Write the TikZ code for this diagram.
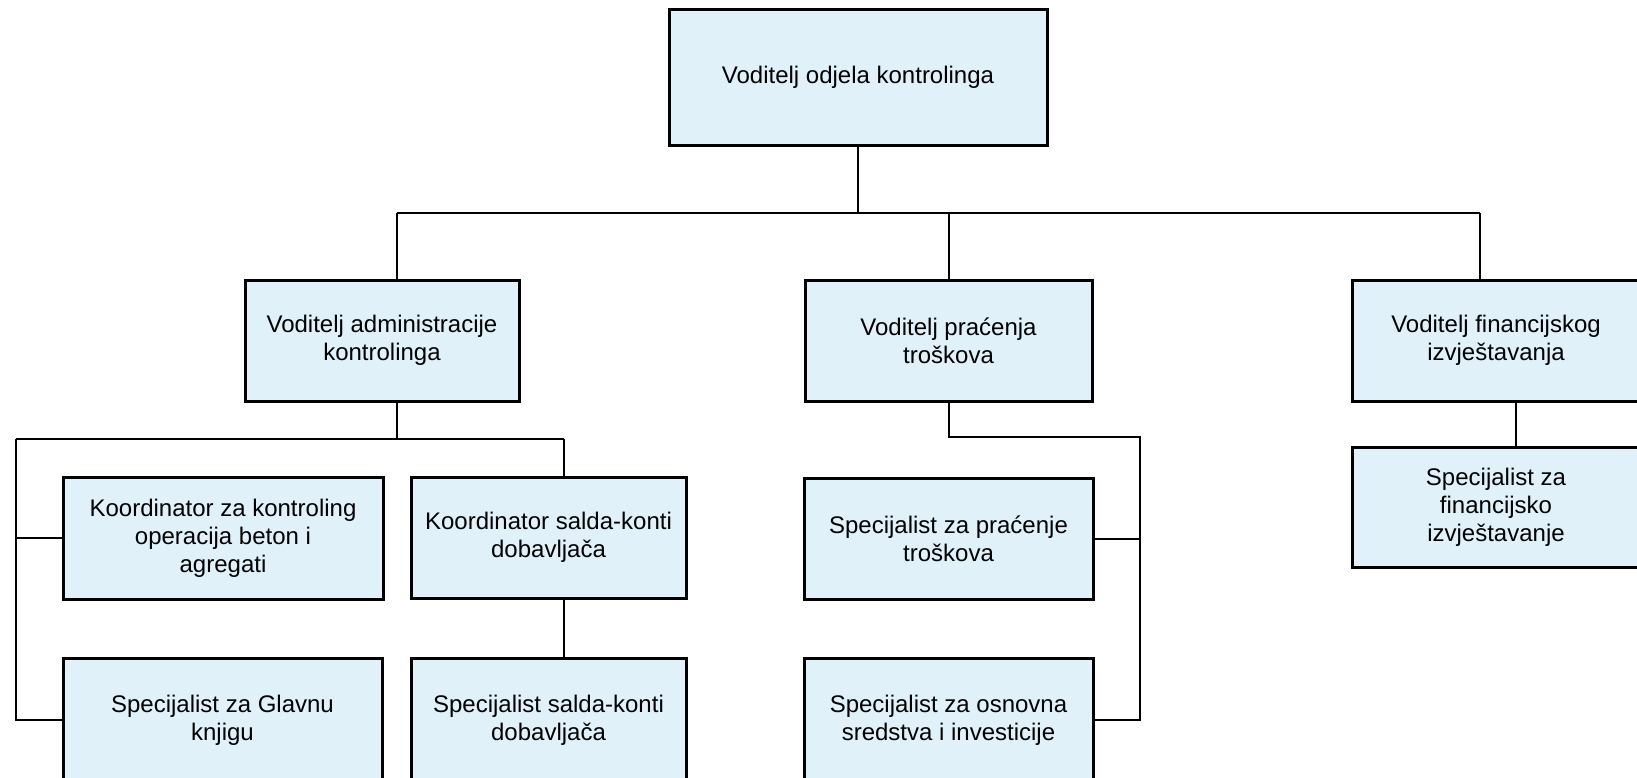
\documentclass[tikz,border=0pt]{standalone}
\usepackage{fontspec}
\setmainfont{Liberation Sans}
\definecolor{boxfill}{RGB}{224,241,250}
\begin{document}
\begin{tikzpicture}[x=0.5pt,y=-0.5pt,
  box/.style={draw=black, line width=1.5pt, fill=boxfill, align=center, inner sep=0pt,
    font=\fontsize{12}{14}\selectfont},
  conn/.style={draw=black, line width=1pt}]
\useasboundingbox (0,0) rectangle (1637,777);
\clip (0,0) rectangle (1637,777);
% level 1
\node[box, minimum width=189pt, minimum height=68pt] (top) at (858,77) {Voditelj odjela kontrolinga};
% level 2
\node[box, minimum width=137pt, minimum height=60.5pt] (adm) at (382,340.5) {Voditelj administracije\\kontrolinga};
\node[box, minimum width=143.5pt, minimum height=60.5pt] (prac) at (948.5,340.5) {Voditelj praćenja\\troškova};
\node[box, minimum width=144pt, minimum height=60.5pt] (fin) at (1496,340.5) {Voditelj financijskog\\izvještavanja};
% level 3
\node[box, minimum width=160pt, minimum height=61pt] (koorA) at (223,538) {Koordinator za kontroling\\operacija beton i\\agregati};
\node[box, minimum width=137.5pt, minimum height=60.5pt] (koorS) at (548.5,537.5) {Koordinator salda-konti\\dobavljača};
\node[box, minimum width=144.5pt, minimum height=60.5pt] (specP) at (948.5,538.5) {Specijalist za praćenje\\troškova};
\node[box, minimum width=144pt, minimum height=60pt] (specF) at (1496,507) {Specijalist za\\financijsko\\izvještavanje};
% level 4
\node[box, minimum width=159.5pt, minimum height=62pt] (specG) at (222.5,720) {Specijalist za Glavnu\\knjigu};
\node[box, minimum width=137.5pt, minimum height=62pt] (specS) at (548.5,720) {Specijalist salda-konti\\dobavljača};
\node[box, minimum width=144.5pt, minimum height=62pt] (specO) at (948.5,720) {Specijalist za osnovna\\sredstva i investicije};
% junctions
\coordinate (jA) at (397,213);
\coordinate (jC) at (1480,213);
\coordinate (l0) at (16,439);
\coordinate (l1) at (397,439);
\coordinate (l2) at (564,439);
\coordinate (m1) at (949,437);
\coordinate (m2) at (1140,437);
\coordinate (r1) at (1516,0);
% top connectors
\draw[conn] (top.south) -- (top.south |- jA);
\draw[conn] (jA) -- (jC);
\draw[conn] (jA) -- (jA |- adm.north);
\draw[conn] (prac.north |- jA) -- (prac.north);
\draw[conn] (jC) -- (jC |- fin.north);
% left group
\draw[conn] (l1 |- adm.south) -- (l1);
\draw[conn] (l0) -- (l2);
\draw[conn] (l0) -- (l0 |- specG.west) -- (specG.west);
\draw[conn] (l0 |- koorA.west) -- (koorA.west);
\draw[conn] (l2) -- (l2 |- koorS.north);
\draw[conn] (l2 |- koorS.south) -- (l2 |- specS.north);
% middle group
\draw[conn] (prac.south) -- (prac.south |- m1) -- (m2) -- (m2 |- specO.east) -- (specO.east);
\draw[conn] (specP.east) -- (m2 |- specP.east);
% right group
\draw[conn] (r1 |- fin.south) -- (r1 |- specF.north);
\end{tikzpicture}
\end{document}
